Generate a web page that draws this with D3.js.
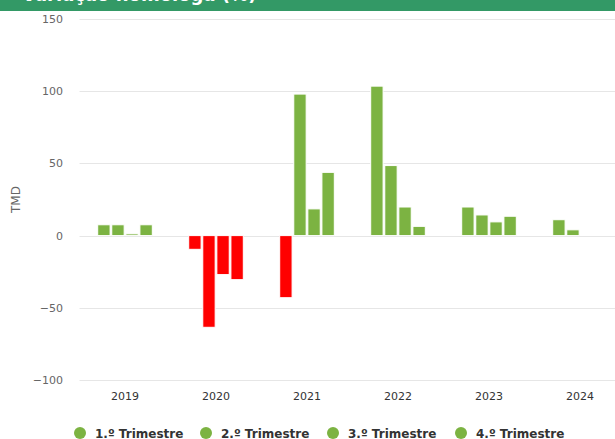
<!DOCTYPE html>
<meta charset="utf-8">
<style>
	body { margin: 0; background: #fff; }
	svg { display: block; font-family: "DejaVu Sans", Verdana, sans-serif; }
	.grid line { stroke: #e6e6e6; }
	.ylab { font-size: 11px; fill: #666; }
	.xlab { font-size: 11px; fill: #333; }
	.leg { font-size: 12px; font-weight: bold; fill: #333; }
</style>
<body>
<svg id="svg"></svg>
<script src="https://cdn.jsdelivr.net/npm/d3@7"></script>
<script>
// DATA
var years = ['2019', '2020', '2021', '2022', '2023', '2024']
var quarters = ['1.º Trimestre', '2.º Trimestre', '3.º Trimestre', '4.º Trimestre']
var q1 = [7.5, -9.5, -43, 103.5, 19.8, 11]
var q2 = [7.5, -63.5, 98, 48.5, 14.3, 4]
var q3 = [1.2, -27, 18.5, 19.8, 9.5, null]
var q4 = [7.5, -30.5, 43.8, 6.4, 13.4, null]
var yTicks = [-100, -50, 0, 50, 100, 150]
var title = 'Variação homóloga (%)'

var series = [q1, q2, q3, q4]

// CANVAS
var width = 615
var height = 439
var green = '#7cb342'
var red = '#ff0000'

var svg = d3.select('#svg')
	.attr('width', width)
	.attr('height', height)

// header band (mostly cut off at the top)
svg.append('rect')
	.attr('x', 0).attr('y', 0)
	.attr('width', width).attr('height', 11)
	.attr('fill', '#339966')
svg.append('text')
	.attr('x', 22).attr('y', 1)
	.attr('fill', '#fff')
	.style('font-size', '18px')
	.style('font-weight', 'bold')
	.text(title)

// SCALES
var y = d3.scaleLinear().domain([-100, 150]).range([380, 19])
var x = d3.scaleBand().domain(years).range([79.5, 625.5])
var xq = d3.scaleBand().domain(d3.range(4)).range([18.2, 91 - 18.2]).paddingInner(0.12)

// GRID
svg.append('g').attr('class', 'grid')
	.selectAll('line')
	.data(yTicks)
	.enter().append('line')
		.attr('x1', 79.5).attr('x2', width)
		.attr('y1', d => Math.round(y(d)) + 0.5)
		.attr('y2', d => Math.round(y(d)) + 0.5)

svg.append('g')
	.selectAll('text')
	.data(yTicks)
	.enter().append('text')
		.attr('class', 'ylab')
		.attr('x', 63)
		.attr('y', d => y(d) + 4)
		.attr('text-anchor', 'end')
		.text(d => d < 0 ? '\u2212' + Math.abs(d) : d)

svg.append('text')
	.attr('class', 'ylab')
	.attr('transform', 'translate(20,' + y(25) + ') rotate(-90)')
	.attr('text-anchor', 'middle')
	.style('font-size', '12px')
	.text('TMD')

// X LABELS
svg.append('g')
	.selectAll('text')
	.data(years)
	.enter().append('text')
		.attr('class', 'xlab')
		.attr('x', d => x(d) + x.bandwidth() / 2)
		.attr('y', 400)
		.attr('text-anchor', 'middle')
		.text(d => d)

// BARS
var bars = []
series.forEach((s, qi) => {
	s.forEach((v, yi) => {
		if (v != null) bars.push({ year: years[yi], q: qi, v: v })
	})
})

svg.append('g')
	.selectAll('rect')
	.data(bars)
	.enter().append('rect')
		.attr('x', d => x(d.year) + xq(d.q))
		.attr('width', xq.bandwidth())
		.attr('y', d => Math.min(y(d.v), y(0)))
		.attr('height', d => Math.abs(y(d.v) - y(0)))
		.attr('fill', d => d.v < 0 ? red : green)
		.attr('stroke', '#fff')
		.attr('stroke-width', 1)

// LEGEND
var legX = [80, 206, 333, 461]
var leg = svg.append('g')
	.selectAll('g')
	.data(quarters)
	.enter().append('g')
		.attr('transform', (d, i) => 'translate(' + legX[i] + ',433)')
leg.append('circle').attr('r', 6).attr('fill', green)
leg.append('text')
	.attr('class', 'leg')
	.attr('x', 15).attr('y', 5)
	.text(d => d)
</script>
</body>
